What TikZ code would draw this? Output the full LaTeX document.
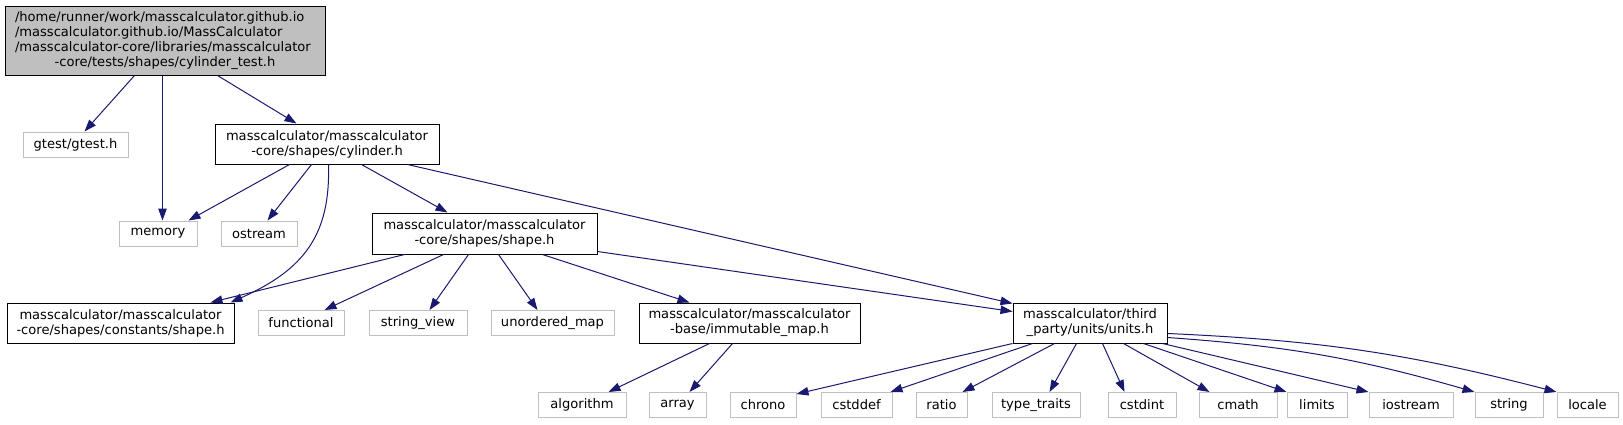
\documentclass[tikz,border=0pt]{standalone}
\usepackage{fontspec}
\setmainfont{DejaVu Sans}
\usetikzlibrary{arrows.meta,calc}
\definecolor{edgec}{HTML}{191970}
\definecolor{gborder}{HTML}{BFBFBF}
\begin{document}
\begin{tikzpicture}[x=1pt,y=-1pt,
  base/.style={rectangle,inner sep=0pt,align=center,font=\fontsize{13.07}{15}\selectfont,line width=1pt},
  doc/.style={base,draw=black},
  ext/.style={base,draw=gborder,minimum height=25pt},
  link/.style={draw=edgec,line width=1pt,-{Triangle[length=12pt,width=8.5pt]}}]
\useasboundingbox (0,0) rectangle (1623,424);
% nodes
\node[doc,fill=gborder,minimum width=320pt,minimum height=69pt,text width=300pt,align=left] (main) at (165,40.5)
 {/home/runner/work/masscalculator.github.io\\/masscalculator.github.io/MassCalculator\\/masscalculator-core/libraries/masscalculator\\\makebox[300pt]{-core/tests/shapes/cylinder\_test.h}};
\node[ext,minimum width=105pt] (gtest) at (75.5,144.5) {gtest/gtest.h};
\node[doc,minimum width=224pt,minimum height=40pt] (cyl) at (327,144) {masscalculator/masscalculator\\-core/shapes/cylinder.h};
\node[ext,minimum width=78pt] (memory) at (158,233.5) {memory};
\node[ext,minimum width=76pt] (ostream) at (259,233.5) {ostream};
\node[doc,minimum width=225pt,minimum height=41pt] (shape) at (484.5,233.5) {masscalculator/masscalculator\\-core/shapes/shape.h};
\node[doc,minimum width=227pt,minimum height=40pt] (const) at (120.5,323) {masscalculator/masscalculator\\-core/shapes/constants/shape.h};
\node[ext,minimum width=86pt] (functional) at (301,323) {functional};
\node[ext,minimum width=98pt] (strview) at (418,323) {string\_view};
\node[ext,minimum width=123pt] (umap) at (552.5,323) {unordered\_map};
\node[doc,minimum width=221pt,minimum height=40pt] (immut) at (749.5,323) {masscalculator/masscalculator\\-base/immutable\_map.h};
\node[doc,minimum width=154pt,minimum height=40pt] (units) at (1090,323) {masscalculator/third\\\_party/units/units.h};
\node[ext,minimum width=88pt] (algorithm) at (582,405) {algorithm};
\node[ext,minimum width=57pt] (array) at (677.5,405) {array};
\node[ext,minimum width=66pt] (chrono) at (763,405) {chrono};
\node[ext,minimum width=71pt] (cstddef) at (856.5,405) {cstddef};
\node[ext,minimum width=51pt] (ratio) at (941.5,405) {ratio};
\node[ext,minimum width=88pt] (typetraits) at (1036,405) {type\_traits};
\node[ext,minimum width=68pt] (cstdint) at (1142,405) {cstdint};
\node[ext,minimum width=78pt] (cmath) at (1238,405) {cmath};
\node[ext,minimum width=60pt] (limits) at (1317,405) {limits};
\node[ext,minimum width=84pt] (iostream) at (1411,405) {iostream};
\node[ext,minimum width=68pt] (string) at (1509,405) {string};
\node[ext,minimum width=61pt] (locale) at (1587.5,405) {locale};
% edges
\draw[link] ($(main.south west)+(130,0)$) -- ($(gtest.north west)+(62,0)$);
\draw[link] ($(main.south west)+(158,0)$) -- ($(memory.north west)+(44,0)$);
\draw[link] ($(main.south west)+(213,0)$) -- ($(cyl.north west)+(82,0)$);
\draw[link] ($(cyl.south west)+(75,0)$) -- ($(memory.north east)+(-9,0)$);
\draw[link] ($(cyl.south west)+(97,0)$) -- ($(ostream.north west)+(47,0)$);
\draw[link] ($(cyl.south west)+(114,0)$) .. controls ($(cyl.south west)+(116,70)$) and ($(cyl.south west)+(90,105)$) .. ($(const.north east)+(-4,0)$);
\draw[link] ($(cyl.south west)+(147,0)$) -- ($(shape.north west)+(76,0)$);
\draw[link] ($(cyl.south east)+(-32,0)$) -- ($(units.north west)+(0,1)$);
\draw[link] ($(shape.south west)+(33,0)$) -- ($(const.north east)+(-24,0)$);
\draw[link] ($(shape.south west)+(72,0)$) -- ($(functional.north west)+(67,0)$);
\draw[link] ($(shape.south west)+(97,0)$) -- ($(strview.north west)+(61,0)$);
\draw[link] ($(shape.south west)+(127,0)$) -- ($(umap.north west)+(47,0)$);
\draw[link] ($(shape.south west)+(171,0)$) -- ($(immut.north west)+(51,0)$);
\draw[link] ($(shape.south east)+(0,-3)$) -- ($(units.north west)+(0,9)$);
\draw[link] ($(immut.south west)+(71,0)$) -- ($(algorithm.north east)+(-18,0)$);
\draw[link] ($(immut.south west)+(94,0)$) -- ($(array.north west)+(41,0)$);
\draw[link] (units.south west) -- ($(chrono.north east)+(0,2)$);
\draw[link] ($(units.south west)+(20,0)$) -- ($(cstddef.north east)+(-2,0)$);
\draw[link] ($(units.south west)+(42,0)$) -- ($(ratio.north east)+(-5,0)$);
\draw[link] ($(units.south west)+(64,0)$) -- ($(typetraits.north west)+(58,0)$);
\draw[link] ($(units.south west)+(90,0)$) -- ($(cstdint.north west)+(17,0)$);
\draw[link] ($(units.south west)+(111,0)$) -- ($(cmath.north west)+(11,0)$);
\draw[link] ($(units.south west)+(131,0)$) -- (limits.north west);
\draw[link] ($(units.south east)+(-5,0)$) -- (iostream.north west);
\draw[link] ($(units.south east)+(0,-6)$) to[bend left=6] (string.north west);
\draw[link] ($(units.south east)+(0,-10)$) to[bend left=6] (locale.north west);
\end{tikzpicture}
\end{document}
